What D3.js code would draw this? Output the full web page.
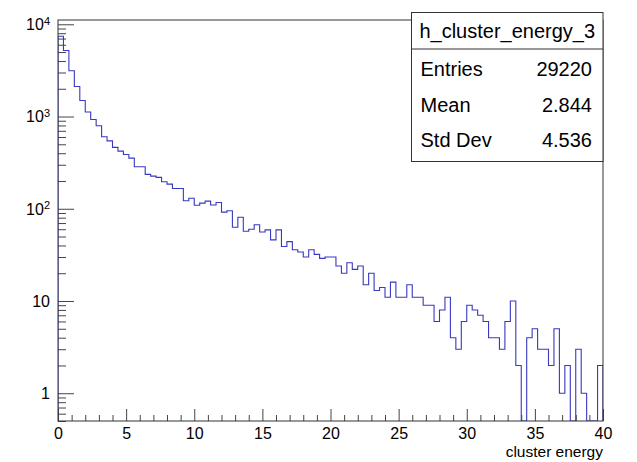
<!DOCTYPE html>
<html>
<head>
<meta charset="utf-8">
<script src="https://cdn.jsdelivr.net/npm/d3@7"></script>
<style>
  body { margin: 0; background: #fff; }
  svg { display: block; }
  text { font-family: "Liberation Sans", Arial, Helvetica, sans-serif; fill: #000; }
</style>
</head>
<body>
<svg id="chart" width="637" height="462"></svg>
<script>
// Histogram contents: 100 bins of width 0.4 spanning [0, 40)
const counts = [
  7430, 5200, 3130, 2120, 1490, 1120, 930, 793, 603, 545,
  463, 422, 388, 354, 285, 285, 236, 226, 219, 196,
  185, 166, 166, 122, 130, 109, 115, 121, 110, 117,
  92, 95, 63, 81, 57, 60, 67, 56, 59, 46,
  59, 39, 44, 36, 34, 30, 36, 32, 29, 30,
  30, 24, 20, 26, 22, 24, 15, 20, 13, 14,
  11, 16, 11, 11, 15, 11, 11, 9, 9, 6,
  8, 11, 4, 3, 6, 9, 8, 7, 6, 4,
  4, 3, 6, 10, 2, 0, 4, 5, 3, 3,
  2, 5, 1, 2, 0, 3, 1, 0, 0, 2
];
const xRange = [0, 40];
const yRange = [0.5, 11130];
const xMajorTicks = [0, 5, 10, 15, 20, 25, 30, 35, 40];
const xTickLabels = ["0", "5", "10", "15", "20", "25", "30", "35", "40"];
const yDecades = [1, 10, 100, 1000, 10000];
const yDecadeExponents = [0, 1, 2, 3, 4];
const xTitle = "cluster energy";

const statsTitle = "h_cluster_energy_3";
const statsNames = ["Entries", "Mean", "Std Dev"];
const statsValues = ["29220", "2.844", "4.536"];

const frame = { left: 58, right: 603, top: 20, bottom: 421 };
const svg = d3.select("#chart");

const x = d3.scaleLinear().domain(xRange).range([frame.left, frame.right]);
const y = d3.scaleLog().domain(yRange).range([frame.bottom, frame.top]);

const nBins = counts.length;
const binWidth = (xRange[1] - xRange[0]) / nBins;

// clip region for the histogram line
svg.append("defs").append("clipPath").attr("id", "frameClip")
  .append("rect")
  .attr("x", frame.left).attr("y", frame.top)
  .attr("width", frame.right - frame.left)
  .attr("height", frame.bottom - frame.top);

// step outline of the histogram
const floorVal = yRange[0];
const pts = [[xRange[0], floorVal]];
counts.forEach((c, i) => pts.push([xRange[0] + i * binWidth, Math.max(c, floorVal)]));
pts.push([xRange[1], Math.max(counts[nBins - 1], floorVal)]);
pts.push([xRange[1], floorVal]);

const stepLine = d3.line()
  .x(d => x(d[0]))
  .y(d => y(d[1]))
  .curve(d3.curveStepAfter);

svg.append("path")
  .attr("clip-path", "url(#frameClip)")
  .attr("d", stepLine(pts))
  .attr("fill", "none")
  .attr("stroke", "#3838c0")
  .attr("stroke-width", 1.1);

// x axis: major ticks every 5, minor ticks every 1, pointing into the frame
const xMinor = d3.range(xRange[0], xRange[1] + 1, 1).filter(v => v % 5 !== 0);
const gxMinor = svg.append("g")
  .attr("transform", `translate(0,${frame.bottom})`)
  .call(d3.axisBottom(x).tickValues(xMinor).tickSizeInner(-6).tickSizeOuter(0).tickFormat(""));
const gxMajor = svg.append("g")
  .attr("transform", `translate(0,${frame.bottom})`)
  .call(d3.axisBottom(x).tickValues(xMajorTicks).tickSizeInner(-12).tickSizeOuter(0)
    .tickPadding(7).tickFormat((d, i) => xTickLabels[i]));
[gxMinor, gxMajor].forEach(g => {
  g.select(".domain").remove();
  g.selectAll(".tick line").attr("stroke", "#444");
});
gxMajor.selectAll(".tick text")
  .style("font-size", "16px")
  .style("font-family", '"Liberation Sans", Arial, sans-serif')
  .attr("fill", "#000");

// y axis: decades with 2..9 minor ticks
const yMinor = [];
for (let e = -1; e <= 4; e++) {
  for (let m = 2; m <= 9; m++) {
    const v = m * Math.pow(10, e);
    if (v >= yRange[0] && v <= yRange[1]) yMinor.push(v);
  }
}
const gyMinor = svg.append("g")
  .attr("transform", `translate(${frame.left},0)`)
  .call(d3.axisLeft(y).tickValues(yMinor).tickSizeInner(-8).tickSizeOuter(0).tickFormat(""));
const gyMajor = svg.append("g")
  .attr("transform", `translate(${frame.left},0)`)
  .call(d3.axisLeft(y).tickValues(yDecades).tickSizeInner(-16).tickSizeOuter(0).tickFormat(""));
[gyMinor, gyMajor].forEach(g => {
  g.select(".domain").remove();
  g.selectAll(".tick line").attr("stroke", "#444");
});

// decade labels: 1, 10, 10^2, 10^3, 10^4
yDecades.forEach((d, i) => {
  const ex = yDecadeExponents[i];
  const t = svg.append("text")
    .attr("x", frame.left - 8)
    .attr("y", y(d))
    .attr("dy", "0.36em")
    .attr("text-anchor", "end")
    .style("font-size", "16px");
  if (ex === 0) t.text("1");
  else if (ex === 1) t.text("10");
  else {
    t.append("tspan").text("10");
    t.append("tspan").attr("dy", "-0.5em").style("font-size", "11px").text(String(ex));
  }
});

// frame
svg.append("rect")
  .attr("x", frame.left).attr("y", frame.top)
  .attr("width", frame.right - frame.left)
  .attr("height", frame.bottom - frame.top)
  .attr("fill", "none")
  .attr("stroke", "#333")
  .attr("stroke-width", 1);

// x axis title
svg.append("text")
  .attr("x", frame.right)
  .attr("y", 457)
  .attr("text-anchor", "end")
  .style("font-size", "15.5px")
  .text(xTitle);

// statistics box
const box = { left: 411.5, top: 12.5, right: 603, bottom: 161.5, split: 49 };
const gs = svg.append("g");
gs.append("rect")
  .attr("x", box.left).attr("y", box.top)
  .attr("width", box.right - box.left)
  .attr("height", box.bottom - box.top)
  .attr("fill", "#fff")
  .attr("stroke", "#333")
  .attr("stroke-width", 1);
gs.append("line")
  .attr("x1", box.left).attr("x2", box.right)
  .attr("y1", box.split).attr("y2", box.split)
  .attr("stroke", "#333");
gs.append("text")
  .attr("x", (box.left + box.right) / 2)
  .attr("y", (box.top + box.split) / 2)
  .attr("dy", "0.36em")
  .attr("text-anchor", "middle")
  .style("font-size", "20px")
  .text(statsTitle);
const rowCenters = [69, 104.5, 140];
statsNames.forEach((name, i) => {
  const cy = rowCenters[i];
  gs.append("text")
    .attr("x", box.left + 9).attr("y", cy).attr("dy", "0.36em")
    .style("font-size", "20px").text(name);
  gs.append("text")
    .attr("x", box.right - 11).attr("y", cy).attr("dy", "0.36em")
    .attr("text-anchor", "end")
    .style("font-size", "20px").text(statsValues[i]);
});
</script>
</body>
</html>
